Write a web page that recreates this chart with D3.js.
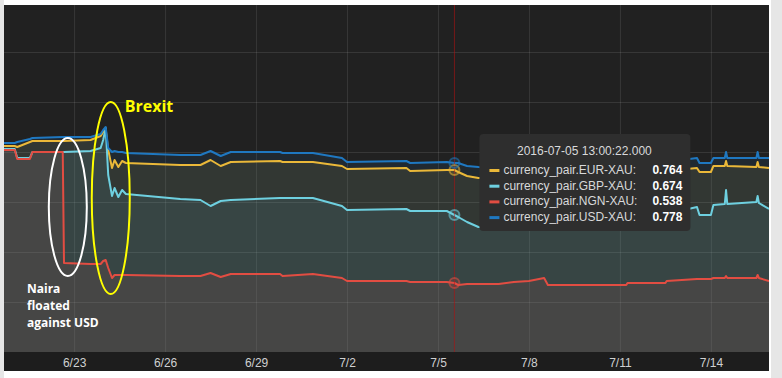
<!DOCTYPE html>
<meta charset="utf-8">
<script src="https://d3js.org/d3.v7.min.js"></script>
<style>
  body { margin: 0; background: #ffffff; }
  svg { display: block; }
  text { font-family: "Liberation Sans", Arial, sans-serif; }
</style>
<body>
<div id="my_dataviz"></div>
<script>
// timestamps shared by the four series (hourly feed, key points only)
var times = [
  "2016-06-20 16:30", "2016-06-21 01:00", "2016-06-21 03:00", "2016-06-21 13:00",
  "2016-06-21 15:00", "2016-06-22 15:00", "2016-06-22 16:00", "2016-06-23 13:00",
  "2016-06-23 21:00", "2016-06-23 23:00", "2016-06-24 01:00", "2016-06-24 03:00",
  "2016-06-24 06:00", "2016-06-24 08:00", "2016-06-24 11:00", "2016-06-24 14:00",
  "2016-06-24 17:00", "2016-06-26 12:00", "2016-06-27 04:00", "2016-06-27 12:00",
  "2016-06-27 20:00", "2016-06-28 04:00", "2016-06-29 19:00", "2016-06-29 21:00",
  "2016-06-30 21:00", "2016-07-01 20:00", "2016-07-02 00:00", "2016-07-03 23:00",
  "2016-07-04 02:00", "2016-07-05 07:00", "2016-07-05 13:00", "2016-07-05 16:00",
  "2016-07-05 23:00", "2016-07-06 08:00", "2016-07-07 00:00", "2016-07-07 12:00",
  "2016-07-08 00:00", "2016-07-08 12:00", "2016-07-08 15:00", "2016-07-11 05:00",
  "2016-07-11 06:00", "2016-07-12 12:00", "2016-07-12 13:00", "2016-07-13 13:00",
  "2016-07-13 15:00", "2016-07-14 00:00", "2016-07-14 02:00", "2016-07-14 11:00",
  "2016-07-14 12:00", "2016-07-14 13:00", "2016-07-15 12:00", "2016-07-15 13:00",
  "2016-07-15 14:00", "2016-07-15 22:00"
];

var eurXau = [
  .812, .812, .810, .820, .822, .822, .822, .824, .832, .840, .846, .804, .768, .784,
  .770, .782, .778, .774, .774, .784, .772, .780, .782, .780, .780, .772, .766, .768,
  .762, .764, .764, .760, .752, .748, .748, .754, .756, .758, .758, .758, .760, .760,
  .762, .768, .760, .760, .772, .772, .782, .772, .770, .780, .770, .768
];
var gbpXau = [
  .806, .806, .788, .788, .800, .800, .800, .802, .808, .824, .848, .754, .712, .728,
  .710, .724, .716, .706, .704, .692, .702, .704, .708, .708, .708, .692, .684, .686,
  .682, .682, .674, .670, .660, .650, .648, .656, .662, .666, .666, .666, .668, .672,
  .676, .690, .674, .674, .694, .696, .724, .696, .700, .712, .698, .686
];
var ngnXau = [
  .804, .804, .786, .786, .800, .800, .578, .576, .576, .582, .584, .568, .548, .554,
  .554, .554, .554, .552, .552, .558, .550, .556, .556, .552, .556, .548, .542, .542,
  .540, .540, .538, .534, .536, .536, .536, .540, .542, .548, .534, .534, .538, .538,
  .542, .546, .546, .546, .548, .548, .552, .548, .548, .554, .548, .542
];
var usdXau = [
  .818, .818, .820, .826, .828, .830, .830, .830, .836, .844, .850, .808, .800, .802,
  .800, .800, .798, .794, .794, .802, .792, .800, .800, .798, .798, .788, .780, .782,
  .778, .780, .778, .778, .772, .770, .768, .772, .774, .776, .776, .776, .778, .778,
  .780, .788, .778, .778, .788, .788, .800, .788, .788, .800, .788, .788
];

var seriesNames = ["currency_pair.EUR-XAU", "currency_pair.GBP-XAU", "currency_pair.NGN-XAU", "currency_pair.USD-XAU"];
var seriesColors = ["#eab839", "#6ed0e0", "#e24d42", "#1f78c1"];
var seriesValues = [eurXau, gbpXau, ngnXau, usdXau];

var tickDays = ["2016-06-23", "2016-06-26", "2016-06-29", "2016-07-02", "2016-07-05", "2016-07-08", "2016-07-11", "2016-07-14"];
var gridValues = [0.5, 0.6, 0.7, 0.8, 0.9, 1.0];
var xDomain = ["2016-06-20 16:30", "2016-07-15 22:00"];
var yDomain = [0.4, 1.094];

var cursorTime = "2016-07-05 13:00";
var tooltipTitle = "2016-07-05 13:00:22.000";

// page & plot geometry
var W = 782, H = 378;
var plot = {left: 4, right: 769, top: 5, bottom: 352};

var parse = d3.timeParse("%Y-%m-%d %H:%M");
var parseDay = d3.timeParse("%Y-%m-%d");

var x = d3.scaleTime()
  .domain(xDomain.map(parse))
  .range([plot.left, plot.right]);
var y = d3.scaleLinear()
  .domain(yDomain)
  .range([plot.bottom, plot.top]);

var svg = d3.select("#my_dataviz")
  .append("svg")
    .attr("width", W)
    .attr("height", H);

// surrounding page bits
svg.append("rect").attr("x", 0).attr("y", 0).attr("width", plot.left).attr("height", H).attr("fill", "#e6e6e6");
svg.append("rect").attr("x", 771).attr("y", 0).attr("width", W - 771).attr("height", H).attr("fill", "#e6e6e6");

// panel backgrounds
svg.append("rect")
  .attr("x", plot.left).attr("y", plot.top)
  .attr("width", plot.right - plot.left).attr("height", plot.bottom - plot.top)
  .attr("fill", "#212121");
svg.append("rect")
  .attr("x", plot.left).attr("y", plot.bottom)
  .attr("width", plot.right - plot.left).attr("height", 19)
  .attr("fill", "#1d1d1d");

svg.append("clipPath").attr("id", "clip")
  .append("rect")
    .attr("x", plot.left).attr("y", plot.top)
    .attr("width", plot.right - plot.left).attr("height", plot.bottom - plot.top);

// grid
var tickDates = tickDays.map(parseDay);
svg.append("g")
  .attr("transform", "translate(0," + plot.bottom + ")")
  .call(d3.axisBottom(x).tickValues(tickDates).tickSize(-(plot.bottom - plot.top)).tickFormat(""))
  .call(function(g) { g.select(".domain").remove(); })
  .selectAll("line").attr("stroke", "#ffffff").attr("stroke-opacity", 0.1);
svg.append("g")
  .attr("transform", "translate(" + plot.left + ",0)")
  .call(d3.axisLeft(y).tickValues(gridValues).tickSize(-(plot.right - plot.left)).tickFormat(""))
  .call(function(g) { g.select(".domain").remove(); })
  .selectAll("line").attr("stroke", "#ffffff").attr("stroke-opacity", 0.1);

// series: fills first, then lines
var series = seriesValues.map(function(vals, k) {
  return {
    name: seriesNames[k],
    color: seriesColors[k],
    points: times.map(function(t, i) { return {t: parse(t), v: vals[i]}; })
  };
});

var area = d3.area()
  .x(function(d) { return x(d.t); })
  .y0(plot.bottom)
  .y1(function(d) { return y(d.v); });
var line = d3.line()
  .x(function(d) { return x(d.t); })
  .y(function(d) { return y(d.v); });

var g = svg.append("g").attr("clip-path", "url(#clip)");
series.forEach(function(s) {
  g.append("path")
    .datum(s.points)
    .attr("fill", s.color)
    .attr("fill-opacity", 0.1)
    .attr("d", area);
});
series.forEach(function(s) {
  g.append("path")
    .datum(s.points)
    .attr("fill", "none")
    .attr("stroke", s.color)
    .attr("stroke-width", 2)
    .attr("stroke-linejoin", "round")
    .attr("d", line);
});

// x axis labels
svg.append("g")
  .attr("transform", "translate(0," + plot.bottom + ")")
  .call(d3.axisBottom(x).tickValues(tickDates).tickSize(0).tickPadding(6).tickFormat(d3.timeFormat("%-m/%-d")))
  .call(function(g) { g.select(".domain").remove(); })
  .selectAll("text")
    .attr("fill", "#cfd0d1")
    .style("font-size", "12px");

// hover crosshair + markers
var cursorIdx = times.indexOf(cursorTime);
var cx = x(parse(cursorTime));
svg.append("line")
  .attr("x1", cx).attr("x2", cx)
  .attr("y1", plot.top).attr("y2", plot.bottom)
  .attr("stroke", "#b01010")
  .attr("stroke-opacity", 0.6)
  .attr("stroke-width", 1);
series.forEach(function(s) {
  svg.append("circle")
    .attr("cx", cx)
    .attr("cy", y(s.points[cursorIdx].v))
    .attr("r", 5)
    .attr("fill", s.color).attr("fill-opacity", 0.15)
    .attr("stroke", s.color).attr("stroke-opacity", 0.55)
    .attr("stroke-width", 2);
});

// tooltip
var tipX = cx + 25, tipY = 134;
var tip = svg.append("g");
tip.append("rect")
  .attr("x", tipX).attr("y", tipY)
  .attr("width", 211).attr("height", 97)
  .attr("rx", 4)
  .attr("fill", "#2e2e2e");
tip.append("text")
  .attr("x", tipX + 105).attr("y", tipY + 21)
  .attr("text-anchor", "middle")
  .attr("fill", "#d8d9da")
  .style("font-size", "12px")
  .text(tooltipTitle);
series.forEach(function(s, k) {
  var by = tipY + 40 + k * 15.7;
  tip.append("rect")
    .attr("x", tipX + 10).attr("y", by - 5)
    .attr("width", 10).attr("height", 3)
    .attr("fill", s.color);
  tip.append("text")
    .attr("x", tipX + 24).attr("y", by)
    .attr("fill", "#d8d9da")
    .style("font-size", "12px")
    .text(s.name + ":");
  tip.append("text")
    .attr("x", tipX + 203).attr("y", by)
    .attr("text-anchor", "end")
    .attr("fill", "#ffffff")
    .style("font-size", "12px")
    .style("font-weight", "bold")
    .text(d3.format(".3f")(s.points[cursorIdx].v));
});

// annotations
var naira = {cx: x(parse("2016-06-22 19:00")), cy: y(0.69)};
var brexit = {cx: x(parse("2016-06-24 05:00")), cy: y(0.708)};
svg.append("ellipse")
  .attr("cx", naira.cx).attr("cy", naira.cy)
  .attr("rx", 19).attr("ry", 69)
  .attr("fill", "none").attr("stroke", "#ffffff").attr("stroke-width", 2);
svg.append("ellipse")
  .attr("cx", brexit.cx).attr("cy", brexit.cy)
  .attr("rx", 19).attr("ry", 96)
  .attr("fill", "none").attr("stroke", "#ffff00").attr("stroke-width", 2);

svg.append("text")
  .attr("x", brexit.cx + 14).attr("y", 112)
  .attr("fill", "#ffff00")
  .style("font-family", "'Open Sans', sans-serif")
  .style("font-size", "16px")
  .style("font-weight", "bold")
  .text("Brexit");

svg.append("g")
  .selectAll("text")
  .data(["Naira", "floated", "against USD"])
  .enter()
  .append("text")
    .attr("x", 27)
    .attr("y", function(d, i) { return 293 + i * 17; })
    .attr("fill", "#ffffff")
    .style("font-family", "'Open Sans', sans-serif")
    .style("font-size", "12px")
    .style("font-weight", "bold")
    .text(function(d) { return d; });
</script>
</body>
